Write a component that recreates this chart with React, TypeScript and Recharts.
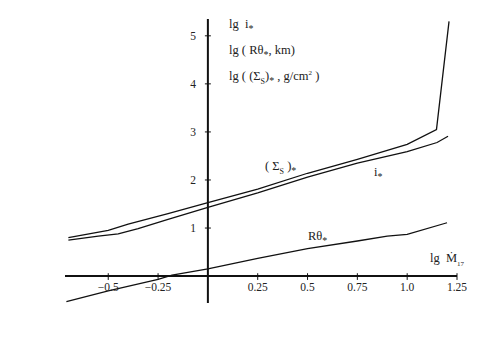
import { LineChart, Line, XAxis, YAxis, ReferenceLine } from "recharts";

const sigmaX = [-0.7, -0.5, -0.4, -0.2, 0, 0.25, 0.5, 0.75, 1.0, 1.147, 1.21];
const sigmaY = [0.8, 0.95, 1.08, 1.3, 1.53, 1.81, 2.14, 2.43, 2.74, 3.05, 5.3];

const iX = [-0.7, -0.55, -0.45, -0.35, -0.2, 0, 0.25, 0.5, 0.75, 1.0, 1.15, 1.205];
const iY = [0.75, 0.83, 0.88, 0.99, 1.18, 1.43, 1.73, 2.06, 2.35, 2.59, 2.78, 2.91];

const rX = [-0.71, -0.5, -0.25, -0.18, 0, 0.25, 0.5, 0.75, 0.9, 1.0, 1.2];
const rY = [-0.53, -0.31, -0.07, 0.02, 0.15, 0.37, 0.57, 0.73, 0.83, 0.87, 1.11];

const xTicks = [-0.5, -0.25, 0.25, 0.5, 0.75, 1.0, 1.25];
const xTickLabels = ["\u22120.5", "\u22120.25", "0.25", "0.5", "0.75", "1.0", "1.25"];
const yTicks = [1, 2, 3, 4, 5];

const X_DOMAIN: [number, number] = [-0.717, 1.25];
const Y_DOMAIN: [number, number] = [-0.56, 5.35];

const toPoints = (xs: number[], ys: number[]) => xs.map((x, i) => ({ x, y: ys[i] }));

const FONT = "'Liberation Serif', 'Times New Roman', serif";
const INK = "#111";

const tickText = { fill: "#222", fontSize: 11.5, fontFamily: FONT };

// small star used as a subscript, like in the scan
const Star = () => <sub style={{ fontSize: 10 }}>*</sub>;

export default function App() {
  const label = (left: number, top: number, content: React.ReactNode, size = 12.5) => (
    <div
      style={{
        position: "absolute",
        left,
        top,
        fontFamily: FONT,
        fontSize: size,
        color: "#222",
        whiteSpace: "nowrap",
        lineHeight: 1,
      }}
    >
      {content}
    </div>
  );

  return (
    <div style={{ position: "relative", width: 480, height: 320, background: "#fff" }}>
      <LineChart width={480} height={320} margin={{ top: 11, right: 31, bottom: 25, left: 57 }}>
        <XAxis dataKey="x" type="number" domain={X_DOMAIN} hide allowDataOverflow />
        <YAxis type="number" domain={Y_DOMAIN} hide allowDataOverflow />

        {/* axes through the origin */}
        <ReferenceLine
          segment={[
            { x: X_DOMAIN[0], y: 0 },
            { x: X_DOMAIN[1], y: 0 },
          ]}
          stroke={INK}
          strokeWidth={2}
        />
        <ReferenceLine
          segment={[
            { x: 0, y: Y_DOMAIN[0] },
            { x: 0, y: Y_DOMAIN[1] },
          ]}
          stroke={INK}
          strokeWidth={2}
        />

        {xTicks.map((t, i) => (
          <ReferenceLine
            key={"xt" + t}
            segment={[
              { x: t, y: 0.06 },
              { x: t, y: -0.08 },
            ]}
            stroke={INK}
            strokeWidth={1}
            label={{ value: xTickLabels[i], position: "bottom", offset: 3, ...tickText }}
          />
        ))}
        {yTicks.map((t) => (
          <ReferenceLine
            key={"yt" + t}
            segment={[
              { x: -0.015, y: t },
              { x: 0.015, y: t },
            ]}
            stroke={INK}
            strokeWidth={1}
            label={{ value: String(t), position: "left", offset: 9, ...tickText }}
          />
        ))}

        <Line data={toPoints(sigmaX, sigmaY)} dataKey="y" type="linear" dot={false} stroke={INK} strokeWidth={1.3} isAnimationActive={false} />
        <Line data={toPoints(iX, iY)} dataKey="y" type="linear" dot={false} stroke={INK} strokeWidth={1.3} isAnimationActive={false} />
        <Line data={toPoints(rX, rY)} dataKey="y" type="linear" dot={false} stroke={INK} strokeWidth={1.3} isAnimationActive={false} />
      </LineChart>

      {label(221, 10, <>lg&nbsp; i<Star /></>)}
      {label(221, 36, <>lg ( Rθ<Star />, km)</>)}
      {label(221, 62, <>lg ( (Σ<sub style={{ fontSize: 8 }}>S</sub>)<Star /> , g/cm<sup style={{ fontSize: 7 }}>2</sup> )</>)}
      {label(257, 152, <>( Σ<sub style={{ fontSize: 8 }}>S</sub> )<Star /></>)}
      {label(366, 158, <>i<Star /></>)}
      {label(300, 222, <>Rθ<Star /></>)}
      {label(422, 244, <>lg&nbsp; Ṁ<sub style={{ fontSize: 7 }}>17</sub></>)}
    </div>
  );
}
